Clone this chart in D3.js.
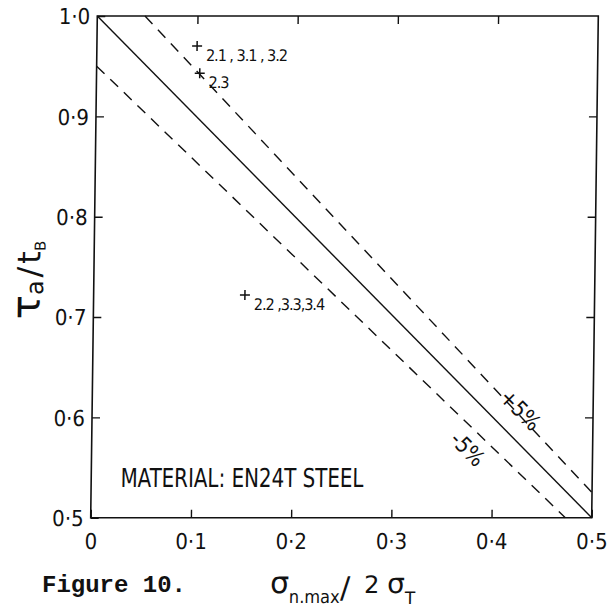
<!DOCTYPE html>
<html><head><meta charset="utf-8">
<script src="https://cdn.jsdelivr.net/npm/d3@7"></script>
<style>
body{margin:0;background:#fff;}
svg{display:block;}
</style></head><body>
<svg id="chart" width="609" height="607"></svg>
<script>
// Axis ranges and ticks
const xDomain = [0, 0.5];
const yDomain = [0.5, 1.0];
const xTicks = [0, 0.1, 0.2, 0.3, 0.4, 0.5];
const yTicks = [0.5, 0.6, 0.7, 0.8, 0.9, 1.0];

// Criterion line and the ±5 % scatter band (end points)
const lineNames = ["criterion", "plus5", "minus5"];
const lineX = [[0, 0.5], [0.0476, 0.5], [0, 0.4737]];
const lineY = [[1.0, 0.5], [1.0, 0.525], [0.95, 0.5]];
const lineDashed = [false, true, true];

// Test results
const pointX = [0.100, 0.103, 0.151];
const pointY = [0.970, 0.943, 0.722];
const pointLabels = ["2.1 , 3.1 , 3.2", "2.3", "2.2 ,3.3,3.4"];

// Band labels, written along the band lines
const bandLabels = ["+5%", "-5%"];
const bandLabelX = [0.422, 0.370];
const bandLabelY = [0.602, 0.563];

const NUM_FONT = '"Liberation Sans Narrow","DejaVu Sans Condensed","Liberation Sans",sans-serif';
const INK = "#111";

const svg = d3.select("#chart");
svg.append("rect").attr("width", 609).attr("height", 607).attr("fill", "#fff");

// the drawing is slightly sheared, as on the printed page
const root = svg.append("g").attr("transform", "translate(6.81,0) skewX(-0.7535)");

const x = d3.scaleLinear().domain(xDomain).range([90.7, 591.7]);
const y = d3.scaleLinear().domain(yDomain).range([517.7, 16]);

const fmt = d => d === 0 ? "0" : d3.format(".1f")(d).replace(".", "\u00B7");

function styleAxis(g) {
  g.select(".domain").remove();
  g.selectAll(".tick line").attr("stroke", INK).attr("stroke-width", 1.4);
  g.selectAll("text").attr("font-family", NUM_FONT).attr("font-size", 22).attr("fill", INK);
}

// bottom axis with labels, ticks pointing inward
root.append("g")
  .attr("transform", `translate(0,${y(0.5)})`)
  .call(d3.axisBottom(x).tickValues(xTicks).tickSizeInner(-8).tickSizeOuter(0).tickPadding(16).tickFormat(fmt))
  .call(styleAxis);

// left axis with labels
root.append("g")
  .attr("transform", `translate(${x(0)},0)`)
  .call(d3.axisLeft(y).tickValues(yTicks).tickSizeInner(-8).tickSizeOuter(0).tickPadding(7).tickFormat(fmt))
  .call(styleAxis)
  .call(g => g.selectAll("text").attr("dy", "0.36em"));

// top and right axes: ticks only
root.append("g")
  .attr("transform", `translate(0,${y(1.0)})`)
  .call(d3.axisTop(x).tickValues(xTicks.slice(1, -1)).tickSizeInner(-8).tickSizeOuter(0).tickFormat(""))
  .call(styleAxis);
root.append("g")
  .attr("transform", `translate(${x(0.5)},0)`)
  .call(d3.axisRight(y).tickValues(yTicks.slice(1, -1)).tickSizeInner(-8).tickSizeOuter(0).tickFormat(""))
  .call(styleAxis);

// frame
root.append("rect")
  .attr("x", x(0)).attr("y", y(1.0))
  .attr("width", x(0.5) - x(0)).attr("height", y(0.5) - y(1.0))
  .attr("fill", "none").attr("stroke", INK).attr("stroke-width", 1.6);

// criterion and band lines
const line = d3.line().x(d => x(d[0])).y(d => y(d[1]));
lineNames.forEach((name, i) => {
  root.append("path")
    .attr("class", name)
    .attr("d", line(d3.zip(lineX[i], lineY[i])))
    .attr("fill", "none").attr("stroke", INK)
    .attr("stroke-width", 1.4)
    .attr("stroke-dasharray", lineDashed[i] ? "11,8" : null);
});

// test points
pointX.forEach((px, i) => {
  const cx = x(px), cy = y(pointY[i]);
  root.append("path")
    .attr("d", `M${cx - 5},${cy}H${cx + 5}M${cx},${cy - 5}V${cy + 5}`)
    .attr("stroke", INK).attr("stroke-width", 1.5);
  root.append("text")
    .attr("x", cx + 9).attr("y", cy + 15)
    .attr("font-family", NUM_FONT).attr("font-size", 16)
    .attr("letter-spacing", -1).attr("fill", INK)
    .text(pointLabels[i]);
});

// band labels
bandLabels.forEach((t, i) => {
  root.append("text")
    .attr("transform", `translate(${x(bandLabelX[i])},${y(bandLabelY[i])}) rotate(45)`)
    .attr("text-anchor", "middle")
    .attr("font-family", NUM_FONT).attr("font-size", 22).attr("fill", INK)
    .text(t);
});

// material note
root.append("text")
  .attr("x", 120).attr("y", 487)
  .attr("font-family", NUM_FONT).attr("font-size", 26).attr("fill", INK)
  .attr("textLength", 243).attr("lengthAdjust", "spacingAndGlyphs")
  .text("MATERIAL: EN24T STEEL");

// y-axis title: τa / tB
const yt = root.append("text")
  .attr("transform", "translate(37,280) rotate(-90)")
  .attr("text-anchor", "middle")
  .attr("font-family", '"DejaVu Sans",sans-serif').attr("fill", INK);
yt.append("tspan").attr("font-size", 40).text("τ");
yt.append("tspan").attr("font-size", 24).attr("dy", 3).text("a");
yt.append("tspan").attr("font-size", 32).attr("dy", -3).attr("dx", 3).text("/");
yt.append("tspan").attr("font-size", 32).attr("dx", 3).text("t");
yt.append("tspan").attr("font-size", 15).attr("dy", 5).text("B");

// x-axis title: σn.max / 2 σT
const xt = root.append("text")
  .attr("font-family", '"DejaVu Sans",sans-serif').attr("fill", INK);
xt.append("tspan").attr("x", 271).attr("y", 593).attr("font-size", 30).text("σ");
xt.append("tspan").attr("x", 290).attr("y", 603).attr("font-size", 16)
  .attr("font-family", NUM_FONT).attr("font-size", 18).text("n.max");
xt.append("tspan").attr("x", 341).attr("y", 598).attr("font-size", 30).text("/");
xt.append("tspan").attr("x", 365).attr("y", 593).attr("font-size", 24).text("2");
xt.append("tspan").attr("x", 388).attr("y", 593).attr("font-size", 28).text("σ");
xt.append("tspan").attr("x", 406).attr("y", 604).attr("font-size", 17).text("T");

// caption
svg.append("text")
  .attr("x", 42).attr("y", 592)
  .attr("font-family", '"Liberation Mono","Courier New",monospace')
  .attr("font-weight", "bold").attr("font-size", 24).attr("fill", INK)
  .text("Figure 10.");
</script>
</body></html>
